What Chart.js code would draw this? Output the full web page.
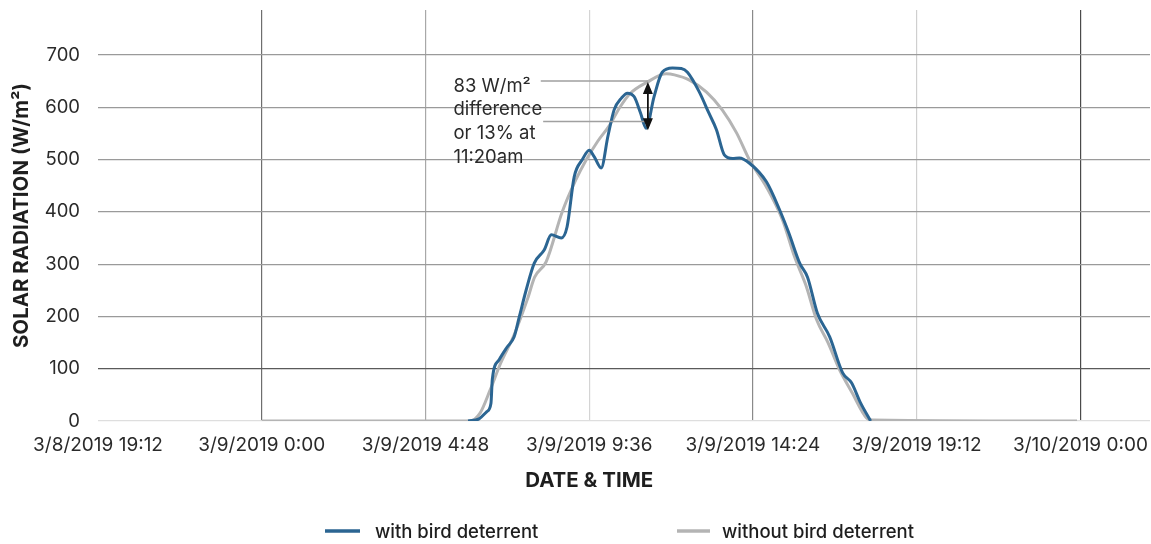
<!DOCTYPE html>
<html>
<head>
<meta charset="utf-8">
<script src="https://cdn.jsdelivr.net/npm/chart.js@4.4.1/dist/chart.umd.min.js"></script>
<style>
  html, body { margin: 0; padding: 0; background: #fff; }
  #wrap { width: 1151px; height: 544px; position: relative; }
</style>
</head>
<body>
<div id="wrap"><canvas id="chart"></canvas></div>
<script>
// hours since 3/9/2019 0:00
const withHours = [6.05, 6.37, 6.60, 6.72, 6.76, 6.96, 7.19, 7.40, 7.55, 7.75, 7.99, 8.28, 8.49, 8.78, 8.95, 9.16, 9.40, 9.60, 9.75, 9.95, 10.15, 10.33, 10.55, 10.72, 10.92, 11.10, 11.27, 11.50, 11.74, 12.04, 12.30, 12.48, 12.83, 13.10, 13.33, 13.56, 13.80, 14.00, 14.30, 14.80, 15.18, 15.45, 15.77, 16.00, 16.29, 16.65, 17.03, 17.29, 17.55, 17.85];
const withValues = [0, 4, 18, 34, 80, 117, 141, 161, 199, 250, 302, 327, 356, 350, 371, 467, 500, 518, 505, 484, 545, 595, 618, 627, 620, 590, 560, 620, 667, 675, 674, 667, 629, 590, 557, 509, 502, 503, 493, 457, 404, 360, 302, 275, 206, 161, 92, 73, 35, 0];

const withoutHours = [0, 6.10, 6.40, 6.70, 7.00, 7.40, 7.80, 8.00, 8.34, 8.81, 9.20, 9.51, 9.85, 10.19, 10.50, 10.78, 11.30, 11.86, 12.10, 12.54, 13.04, 13.50, 13.92, 14.30, 14.80, 15.27, 15.62, 15.95, 16.27, 16.60, 16.94, 17.30, 17.73, 17.90, 23.90];
const withoutValues = [0, 0, 15, 60, 110, 165, 235, 275, 305, 400, 460, 499, 535, 565, 600, 625, 648, 664, 662, 652, 629, 595, 551, 499, 447, 384, 314, 260, 193, 150, 98, 55, 6, 2, 0];

const xTickValues = [-4.8, 0, 4.8, 9.6, 14.4, 19.2, 24];
const xTickLabels = ["3/8/2019 19:12", "3/9/2019 0:00", "3/9/2019 4:48", "3/9/2019 9:36", "3/9/2019 14:24", "3/9/2019 19:12", "3/10/2019 0:00"];
const xGridColors = ["rgba(0,0,0,0)", "#6e6e6e", "#a8a8a8", "#d4d4d4", "#8a8a8a", "#cfcfcf", "#4a4a4a"];
const yTickValues = [0, 100, 200, 300, 400, 500, 600, 700];

const seriesNames = ["with bird deterrent", "without bird deterrent"];
const seriesColors = ["#2b6592", "#b4b4b4"];
const xTitle = "DATE & TIME";

// annotation: 83 W/m2 gap at 11:20am
const noteHour = 11.32;
const noteTop = 650;
const noteBottom = 567;
const noteLines = ["83 W/m\u00b2", "difference", "or 13% at", "11:20am"];

const toPoints = (xs, ys) => xs.map((x, i) => ({ x: x, y: ys[i] }));

const annotationPlugin = {
  id: "gapNote",
  afterDatasetsDraw(chart) {
    const { ctx, scales: { x, y } } = chart;
    const yt = y.getPixelForValue(noteTop);
    const yb = y.getPixelForValue(noteBottom);
    const xa = x.getPixelForValue(noteHour);
    ctx.save();
    // guide lines
    ctx.strokeStyle = "#a0a0a0";
    ctx.lineWidth = 1.5;
    ctx.beginPath();
    ctx.moveTo(x.getPixelForValue(8.18), yt);
    ctx.lineTo(xa, yt);
    ctx.moveTo(x.getPixelForValue(8.25), yb - 3);
    ctx.lineTo(xa - 2, yb - 3);
    ctx.stroke();
    // double arrow
    const top = yt + 1, bot = y.getPixelForValue(556);
    ctx.strokeStyle = "#111";
    ctx.fillStyle = "#111";
    ctx.lineWidth = 1.8;
    ctx.beginPath();
    ctx.moveTo(xa, top + 8);
    ctx.lineTo(xa, bot - 8);
    ctx.stroke();
    ctx.beginPath();
    ctx.moveTo(xa, top); ctx.lineTo(xa - 5, top + 12); ctx.lineTo(xa + 5, top + 12); ctx.closePath();
    ctx.moveTo(xa, bot); ctx.lineTo(xa - 5, bot - 12); ctx.lineTo(xa + 5, bot - 12); ctx.closePath();
    ctx.fill();
    // text
    ctx.fillStyle = "#2a2a2a";
    ctx.font = "18.5px Inter";
    ctx.textAlign = "left";
    ctx.textBaseline = "middle";
    const tx = x.getPixelForValue(5.62);
    noteLines.forEach((t, i) => ctx.fillText(t, tx, yt + 5 + i * 23.8));
    ctx.restore();
  }
};

// x title centred between first and last tick, legend underneath
const bottomTextPlugin = {
  id: "bottomText",
  afterDraw(chart) {
    const { ctx, scales: { x } } = chart;
    ctx.save();
    const cx = (x.getPixelForValue(xTickValues[0]) + x.getPixelForValue(xTickValues[xTickValues.length - 1])) / 2;
    ctx.font = "bold 20.5px Inter";
    ctx.fillStyle = "#1e1e1e";
    ctx.textAlign = "center";
    ctx.textBaseline = "middle";
    ctx.fillText(xTitle, cx, 481);

    const items = [{ x0: 325, x1: 360, tx: 375 }, { x0: 677, x1: 710, tx: 722 }];
    ctx.font = "500 18.5px Inter";
    ctx.textAlign = "left";
    items.forEach((it, i) => {
      ctx.strokeStyle = seriesColors[i];
      ctx.lineWidth = 3.5;
      ctx.beginPath();
      ctx.moveTo(it.x0, 531);
      ctx.lineTo(it.x1, 531);
      ctx.stroke();
      ctx.fillStyle = "#1e1e1e";
      ctx.fillText(seriesNames[i], it.tx, 532);
    });
    ctx.restore();
  }
};

new Chart(document.getElementById("chart"), {
  type: "line",
  data: {
    datasets: [
      {
        label: seriesNames[0],
        data: toPoints(withHours, withValues),
        borderColor: seriesColors[0],
        borderWidth: 3,
        pointRadius: 0,
        cubicInterpolationMode: "monotone",
        fill: false
      },
      {
        label: seriesNames[1],
        data: toPoints(withoutHours, withoutValues),
        borderColor: seriesColors[1],
        borderWidth: 3,
        pointRadius: 0,
        cubicInterpolationMode: "monotone",
        fill: false
      }
    ]
  },
  options: {
    responsive: true,
    maintainAspectRatio: false,
    animation: false,
    layout: { padding: { top: 10, right: 1, bottom: 48, left: 0 } },
    plugins: {
      legend: { display: false },
      tooltip: { enabled: false }
    },
    scales: {
      x: {
        type: "linear",
        min: -4.8,
        max: 26.04,
        afterBuildTicks: (s) => { s.ticks = xTickValues.map(v => ({ value: v })); },
        afterFit: (s) => { s.height = 75; s.paddingLeft = 0; s.paddingRight = 0; },
        ticks: {
          autoSkip: false,
          maxRotation: 0,
          padding: 13,
          color: "#2a2a2a",
          font: { family: "Inter", size: 19 },
          callback: (v, i) => xTickLabels[i]
        },
        grid: {
          drawTicks: false,
          color: (c) => xGridColors[c.index] || "#bbb",
          lineWidth: 1.2
        },
        border: { display: false },
        title: { display: false }
      },
      y: {
        min: 0,
        max: 786,
        afterBuildTicks: (s) => { s.ticks = yTickValues.map(v => ({ value: v })); },
        afterFit: (s) => { s.width = 98; s.paddingTop = 0; s.paddingBottom = 0; },
        ticks: {
          padding: 18,
          color: "#2a2a2a",
          font: { family: "Inter", size: 18.5 }
        },
        grid: {
          drawTicks: false,
          color: (c) => c.tick && c.tick.value === 0 ? "#dedede" : (c.tick && c.tick.value === 100 ? "#5a5a5a" : "#9a9a9a"),
          lineWidth: 1.2
        },
        border: { display: false },
        title: {
          display: true,
          text: "SOLAR RADIATION (W/m\u00b2)",
          color: "#1e1e1e",
          font: { family: "Inter", size: 20.5, weight: "bold" },
          padding: { top: 10, bottom: 0 }
        }
      }
    }
  },
  plugins: [annotationPlugin, bottomTextPlugin]
});
</script>
</body>
</html>
